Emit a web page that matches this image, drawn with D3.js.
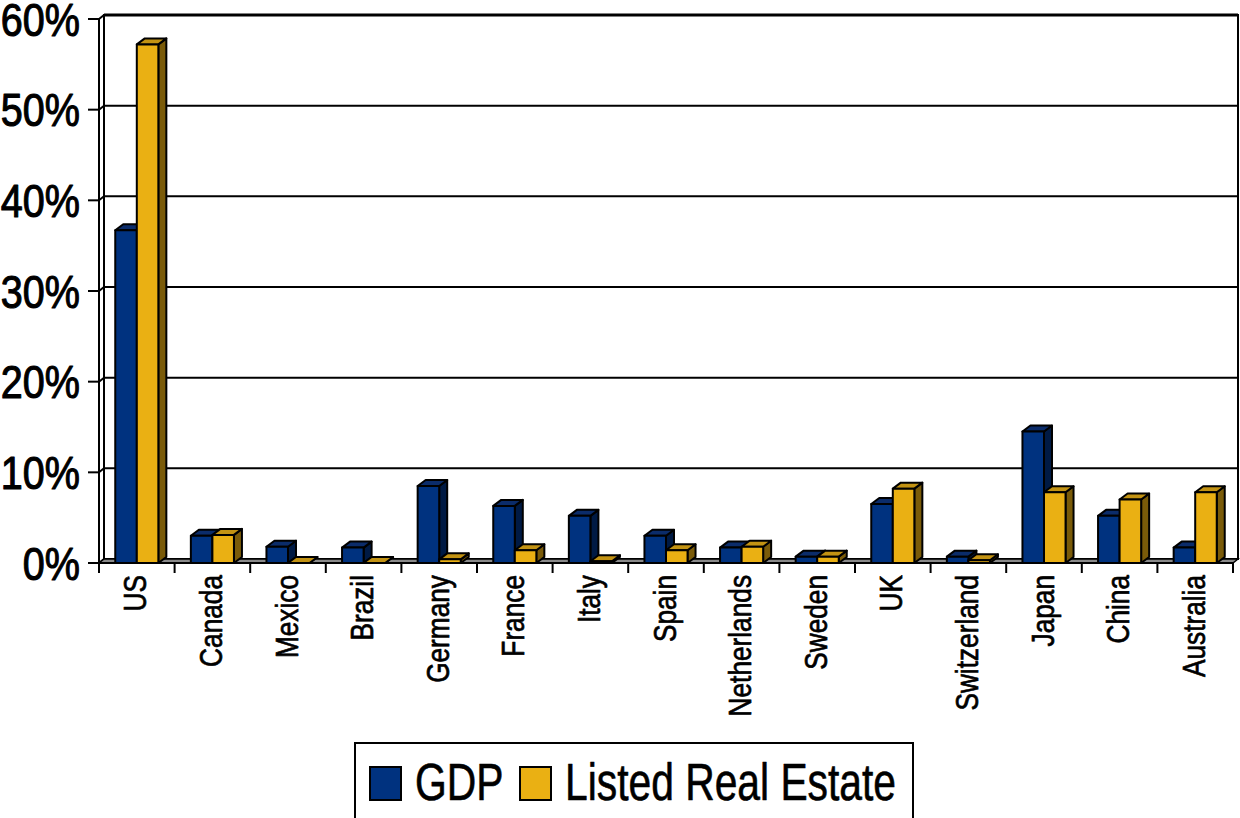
<!DOCTYPE html>
<html>
<head>
<meta charset="utf-8">
<script src="https://cdn.jsdelivr.net/npm/d3@7"></script>
<style>
  html, body { margin: 0; padding: 0; background: #fff; }
  svg { display: block; }
  text { font-family: "Liberation Sans", Arial, sans-serif; fill: #000; stroke: #000; stroke-linejoin: round; }
</style>
</head>
<body>
<svg id="chart" width="1240" height="818"></svg>
<script>
// Share of world GDP vs. share of listed real estate, by country (%)
const countries = ["US", "Canada", "Mexico", "Brazil", "Germany", "France", "Italy", "Spain",
  "Netherlands", "Sweden", "UK", "Switzerland", "Japan", "China", "Australia"];
const gdp = [36.7, 3.0, 1.8, 1.7, 8.5, 6.3, 5.2, 3.0, 1.7, 0.7, 6.5, 0.7, 14.5, 5.2, 1.7];
const listedRealEstate = [57.2, 3.1, 0.0, 0.0, 0.4, 1.4, 0.2, 1.4, 1.8, 0.7, 8.2, 0.3, 7.8, 7.0, 7.8];
const yTicks = [0, 10, 20, 30, 40, 50, 60];
const seriesNames = ["GDP", "Listed Real Estate"];

const palette = {
  GDP: { front: "#00327f", side: "#001a44", top: "#0b2c6a" },
  "Listed Real Estate": { front: "#eab013", side: "#7a5b09", top: "#c39313" }
};

const svg = d3.select("#chart");

// Plot frame (front plane) and 3-D offsets
const plotLeft = 99, plotRight = 1233, plotTop = 19, plotBottom = 563;
const wallDx = 5, wallDy = -4;   // depth of walls / floor
const barDx = 8, barDy = -6;     // depth of each column

const x0 = d3.scaleBand().domain(countries).range([plotLeft, plotRight])
  .paddingInner(0.43).paddingOuter(0.215);
const x1 = d3.scaleBand().domain(seriesNames).range([0, x0.bandwidth()]);
const y = d3.scaleLinear().domain([0, 60]).range([plotBottom, plotTop]);

const step = x0.step();
const gap = step - x0.bandwidth();

// Back wall
svg.append("rect")
  .attr("x", plotLeft + wallDx).attr("y", y(60) + wallDy)
  .attr("width", plotRight - plotLeft).attr("height", y(0) - y(60))
  .attr("fill", "#fff").attr("stroke", "#000").attr("stroke-width", 2);

// Gridlines on back wall + side wall diagonals
const grid = svg.append("g");
yTicks.forEach(v => {
  grid.append("line")
    .attr("x1", plotLeft + wallDx).attr("x2", plotRight + wallDx)
    .attr("y1", y(v) + wallDy).attr("y2", y(v) + wallDy)
    .attr("stroke", "#000").attr("stroke-width", v === 60 ? 3 : 2);
  grid.append("line")
    .attr("x1", plotLeft).attr("y1", y(v))
    .attr("x2", plotLeft + wallDx).attr("y2", y(v) + wallDy)
    .attr("stroke", "#000").attr("stroke-width", 2);
});
// side wall back edge
grid.append("line")
  .attr("x1", plotLeft + wallDx).attr("x2", plotLeft + wallDx)
  .attr("y1", y(60) + wallDy).attr("y2", y(0) + wallDy)
  .attr("stroke", "#000").attr("stroke-width", 2);

// Floor
svg.append("path")
  .attr("d", d3.line()([[plotLeft, y(0)], [plotRight, y(0)], [plotRight + wallDx, y(0) + wallDy], [plotLeft + wallDx, y(0) + wallDy]]) + "Z")
  .attr("fill", "#8a8a8a").attr("stroke", "#000").attr("stroke-width", 1.5);

// Columns
const rows = countries.map((c, i) => ({ c, values: [
  { key: "GDP", v: gdp[i] },
  { key: "Listed Real Estate", v: listedRealEstate[i] }
]}));

const bars = svg.append("g");
rows.forEach(r => {
  r.values.forEach(d => {
    const xa = x0(r.c) + x1(d.key);
    const xb = xa + x1.bandwidth();
    const yt = y(d.v), yb = y(0);
    const col = palette[d.key];
    const g = bars.append("g").attr("stroke", "#000").attr("stroke-width", 2).attr("stroke-linejoin", "round");
    // side face
    g.append("path")
      .attr("d", d3.line()([[xb, yt], [xb + barDx, yt + barDy], [xb + barDx, yb + barDy], [xb, yb]]) + "Z")
      .attr("fill", col.side);
    // top face
    g.append("path")
      .attr("d", d3.line()([[xa, yt], [xa + barDx, yt + barDy], [xb + barDx, yt + barDy], [xb, yt]]) + "Z")
      .attr("fill", col.top);
    // front face
    if (yb - yt > 0.5) {
      g.append("rect")
        .attr("x", xa).attr("y", yt).attr("width", xb - xa).attr("height", yb - yt)
        .attr("fill", col.front);
    }
  });
});

// Y axis line and ticks
const axis = svg.append("g").attr("stroke", "#000").attr("stroke-width", 2);
axis.append("line").attr("x1", plotLeft).attr("x2", plotLeft).attr("y1", y(60)).attr("y2", y(0));
yTicks.forEach(v => {
  axis.append("line").attr("x1", plotLeft - 11).attr("x2", plotLeft).attr("y1", y(v)).attr("y2", y(v));
});

// X axis line and category ticks
axis.append("line").attr("x1", plotLeft - 11).attr("x2", plotRight).attr("y1", y(0)).attr("y2", y(0));
const boundaries = countries.map(c => x0(c) - gap / 2).concat([plotRight]);
boundaries.forEach(bx => {
  axis.append("line").attr("x1", bx).attr("x2", bx).attr("y1", y(0)).attr("y2", y(0) + 10);
});

// Condensed lettering: horizontally compressed sans, slightly thickened
// Y tick labels
svg.append("g").selectAll("text").data(yTicks).join("text")
  .attr("transform", d => `translate(80,${y(d)}) scale(0.86,1)`)
  .attr("dy", "0.36em")
  .attr("text-anchor", "end").attr("font-size", 46)
  .attr("stroke-width", 1.1)
  .text(d => d + "%");

// Category labels (rotated)
svg.append("g").selectAll("text").data(countries).join("text")
  .attr("transform", d => `translate(${x0(d) + x0.bandwidth() / 2 - 2},575) rotate(-90) scale(0.82,1)`)
  .attr("dy", "0.36em")
  .attr("text-anchor", "end").attr("font-size", 32)
  .attr("stroke-width", 0.7)
  .text(d => d);

// Legend
const legend = svg.append("g");
legend.append("rect").attr("x", 355).attr("y", 743).attr("width", 558).attr("height", 76)
  .attr("fill", "#fff").attr("stroke", "#000").attr("stroke-width", 2);
const legendItems = [
  { key: "GDP", sx: 370, tx: 415 },
  { key: "Listed Real Estate", sx: 520, tx: 565 }
];
legendItems.forEach(it => {
  legend.append("rect").attr("x", it.sx).attr("y", 767).attr("width", 31).attr("height", 33)
    .attr("fill", palette[it.key].front).attr("stroke", "#000").attr("stroke-width", 2);
  legend.append("text").attr("transform", `translate(${it.tx},800) scale(0.8,1)`)
    .attr("font-size", 51).attr("stroke-width", 0.6).text(it.key);
});
</script>
</body>
</html>
